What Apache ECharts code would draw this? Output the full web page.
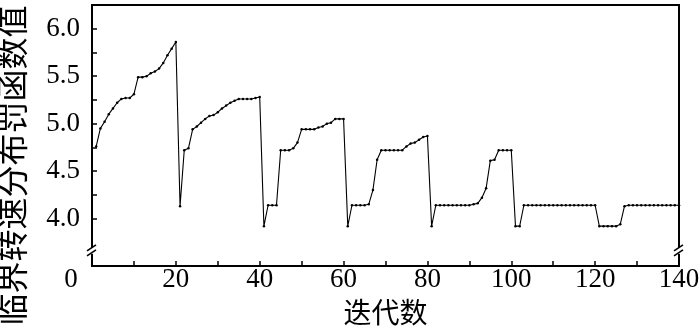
<!DOCTYPE html>
<html>
<head>
<meta charset="utf-8">
<script src="https://cdn.jsdelivr.net/npm/echarts@6/dist/echarts.min.js"></script>
<style>
  html, body { margin: 0; padding: 0; background: #fff; }
  #chart { width: 700px; height: 336px; }
</style>
</head>
<body>
<div id="chart"></div>
<script>
// penalty value per iteration (iterations 1..140)
const penalty = [
  4.76, 4.95, 5.02, 5.10, 5.16, 5.22, 5.26, 5.27, 5.27, 5.31,
  5.49, 5.49, 5.50, 5.53, 5.55, 5.58, 5.64, 5.72, 5.79, 5.86,
  4.13, 4.72, 4.74, 4.94, 4.97, 5.01, 5.05, 5.08, 5.09, 5.12,
  5.16, 5.19, 5.22, 5.24, 5.26, 5.26, 5.26, 5.26, 5.27, 5.28,
  3.92, 4.14, 4.14, 4.14, 4.72, 4.72, 4.72, 4.74, 4.80, 4.94,
  4.94, 4.94, 4.94, 4.96, 4.97, 5.00, 5.01, 5.05, 5.05, 5.05,
  3.92, 4.14, 4.14, 4.14, 4.14, 4.15, 4.30, 4.62, 4.72, 4.72,
  4.72, 4.72, 4.72, 4.72, 4.76, 4.79, 4.80, 4.83, 4.86, 4.87,
  3.92, 4.14, 4.14, 4.14, 4.14, 4.14, 4.14, 4.14, 4.14, 4.14,
  4.15, 4.16, 4.22, 4.32, 4.61, 4.62, 4.72, 4.72, 4.72, 4.72,
  3.92, 3.92, 4.14, 4.14, 4.14, 4.14, 4.14, 4.14, 4.14, 4.14,
  4.14, 4.14, 4.14, 4.14, 4.14, 4.14, 4.14, 4.14, 4.14, 4.14,
  3.92, 3.92, 3.92, 3.92, 3.92, 3.94, 4.13, 4.14, 4.14, 4.14,
  4.14, 4.14, 4.14, 4.14, 4.14, 4.14, 4.14, 4.14, 4.14, 4.14
];
const xTicks = [0, 10, 20, 30, 40, 50, 60, 70, 80, 90, 100, 110, 120, 130, 140];
const xLabels = [0, 20, 40, 60, 80, 100, 120, 140];
const yTicks = [4.0, 4.25, 4.5, 4.75, 5.0, 5.25, 5.5, 5.75, 6.0];
const yLabels = [4.0, 4.5, 5.0, 5.5, 6.0];
const breakValue = 3.66;

const serif = '"Liberation Serif", "DejaVu Serif", serif';
const cjk = '"Noto Sans CJK SC", sans-serif';

const chart = echarts.init(document.getElementById('chart'));

const option = {
  animation: false,
  backgroundColor: '#fff',
  grid: {
    left: 92, right: 21, top: 5, bottom: 70,
    containLabel: false,
    outerBoundsMode: 'none',
    show: true,
    borderColor: '#000',
    borderWidth: 2
  },
  xAxis: {
    type: 'value',
    min: 0,
    max: 140,
    name: '迭代数',
    nameLocation: 'middle',
    nameGap: 32,
    nameTextStyle: { fontFamily: cjk, fontSize: 28, color: '#000' },
    axisLine: { show: true, lineStyle: { color: '#000', width: 2 } },
    axisTick: { show: true, inside: true, length: 5, customValues: xTicks, lineStyle: { color: '#000', width: 1.5 } },
    axisLabel: {
      customValues: xLabels,
      margin: 0,
      color: '#000',
      fontFamily: serif,
      fontSize: 27,
      formatter: v => v === 0 ? '{z|0}' : String(v),
      rich: { z: { fontFamily: serif, fontSize: 27, color: '#000', padding: [0, 42, 0, 0] } }
    },
    splitLine: { show: false }
  },
  yAxis: {
    type: 'value',
    min: 3.5,
    max: 6.25,
    name: '临界转速分布罚函数值',
    nameLocation: 'middle',
    nameGap: 64,
    nameTextStyle: { fontFamily: cjk, fontSize: 32, color: '#000', padding: [0, 60, 0, 0] },
    axisLine: { show: true, lineStyle: { color: '#000', width: 2 } },
    axisTick: { show: true, inside: true, length: 5, customValues: yTicks, lineStyle: { color: '#000', width: 1.5 } },
    axisLabel: {
      customValues: yLabels,
      margin: 12,
      color: '#000',
      fontFamily: serif,
      fontSize: 27,
      formatter: v => v.toFixed(1)
    },
    splitLine: { show: false }
  },
  series: [{
    type: 'line',
    data: penalty.map((v, i) => [i + 1, v]),
    symbol: 'circle',
    symbolSize: 2.5,
    showSymbol: true,
    lineStyle: { color: '#000', width: 1.1 },
    itemStyle: { color: '#000' }
  }]
};

chart.setOption(option);

// axis break marks on the left and right frame lines
function breakMark(x, y) {
  return [
    { type: 'rect', shape: { x: x - 4, y: y - 3, width: 8, height: 6 }, style: { fill: '#fff' }, z: 100 },
    { type: 'line', shape: { x1: x - 5, y1: y, x2: x + 4, y2: y - 6 }, style: { stroke: '#000', lineWidth: 1.5 }, z: 101 },
    { type: 'line', shape: { x1: x - 5, y1: y + 5, x2: x + 4, y2: y - 1 }, style: { stroke: '#000', lineWidth: 1.5 }, z: 101 }
  ];
}
const pl = chart.convertToPixel({ gridIndex: 0 }, [0, breakValue]);
const pr = chart.convertToPixel({ gridIndex: 0 }, [140, breakValue]);
chart.setOption({ graphic: breakMark(pl[0], pl[1]).concat(breakMark(pr[0], pr[1])) });
</script>
</body>
</html>
